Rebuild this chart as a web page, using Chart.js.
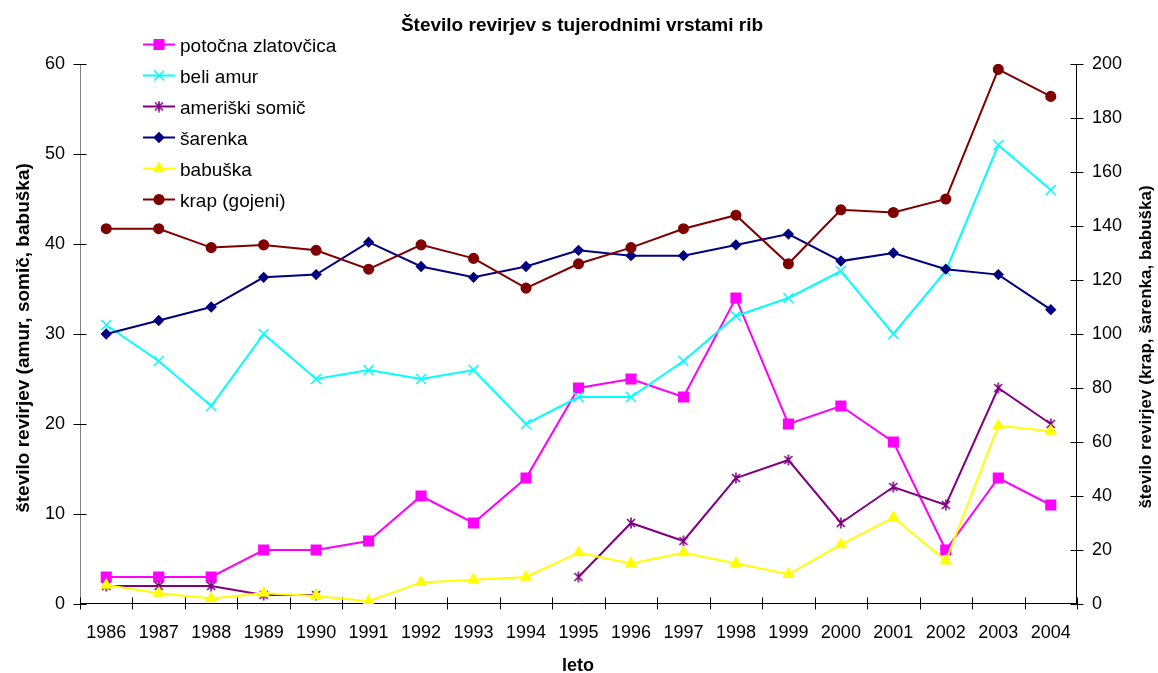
<!DOCTYPE html>
<html>
<head>
<meta charset="utf-8">
<script src="https://cdn.jsdelivr.net/npm/chart.js@4.4.0/dist/chart.umd.min.js"></script>
<style>
  html, body { margin: 0; padding: 0; background: #fff; }
  #wrap { width: 1158px; height: 673px; }
</style>
</head>
<body>
<div id="wrap"><canvas id="c" width="1158" height="673"></canvas></div>
<script>
// Leta (kategorije osi x)
const years = ['1986','1987','1988','1989','1990','1991','1992','1993','1994','1995',
               '1996','1997','1998','1999','2000','2001','2002','2003','2004'];

// Število revirjev po vrstah
const potocnaZlatovcica = [3, 3, 3, 6, 6, 7, 12, 9, 14, 24, 25, 23, 34, 20, 22, 18, 6, 14, 11];
const beliAmur          = [31, 27, 22, 30, 25, 26, 25, 26, 20, 23, 23, 27, 32, 34, 37, 30, 37, 51, 46];
const ameriskiSomic     = [2, 2, 2, 1, 1, null, null, null, null, 3, 9, 7, 14, 16, 9, 13, 11, 24, 20];
const sarenka           = [100, 105, 110, 121, 122, 134, 125, 121, 125, 131, 129, 129, 133, 137, 127, 130, 124, 122, 109];
const babuska           = [7, 4, 2, 4, 3, 1, 8, 9, 10, 19, 15, 19, 15, 11, 22, 32, 16, 66, 64];
const krapGojeni        = [139, 139, 132, 133, 131, 124, 133, 128, 117, 126, 132, 139, 144, 126, 146, 145, 150, 198, 188];

// Oznake osi
const leftTicks  = { min: 0, max: 60, step: 10 };
const rightTicks = { min: 0, max: 200, step: 20 };

const FONT = '"Liberation Sans", Arial, Helvetica, sans-serif';

// Zvezdica (X z navpično črto) kot oznaka točke
function starMarker(color) {
  const s = 12, cv = document.createElement('canvas');
  cv.width = s; cv.height = s;
  const g = cv.getContext('2d');
  g.strokeStyle = color; g.lineWidth = 1.6;
  g.beginPath();
  g.moveTo(2, 2); g.lineTo(s - 2, s - 2);
  g.moveTo(s - 2, 2); g.lineTo(2, s - 2);
  g.moveTo(s / 2, 0.5); g.lineTo(s / 2, s - 0.5);
  g.stroke();
  return cv;
}
const starImg = starMarker('#800080');

function series(label, data, color, axis, style, radius, order) {
  return {
    label, data, yAxisID: axis,
    borderColor: color, backgroundColor: color,
    borderWidth: 2, tension: 0, spanGaps: false,
    pointStyle: style, pointRadius: radius, pointHoverRadius: radius,
    pointBorderColor: color, pointBackgroundColor: color, pointBorderWidth: 1.5,
    order
  };
}

const datasets = [
  series('potočna zlatovčica', potocnaZlatovcica, '#FF00FF', 'yL', 'rect', 6.8, 5),
  series('beli amur', beliAmur, '#00FFFF', 'yL', 'crossRot', 7, 4),
  series('ameriški somič', ameriskiSomic, '#800080', 'yL', starImg, 6, 3),
  series('šarenka', sarenka, '#000080', 'yR', 'rectRot', 4.6, 2),
  series('babuška', babuska, '#FFFF00', 'yR', 'triangle', 5.8, 1),
  series('krap (gojeni)', krapGojeni, '#800000', 'yR', 'circle', 4.8, 0)
];

const axesPlugin = {
  id: 'axesFrame',
  beforeDatasetsDraw(chart) {
    const ctx = chart.ctx, a = chart.chartArea;
    const yL = chart.scales.yL, yR = chart.scales.yR;
    ctx.save();
    ctx.lineWidth = 1;
    const seg = (x1, y1, x2, y2, c) => {
      ctx.strokeStyle = c; ctx.beginPath(); ctx.moveTo(x1, y1); ctx.lineTo(x2, y2); ctx.stroke();
    };
    const L = Math.round(a.left) + 0.5, R = Math.round(a.right) - 0.5, B = Math.round(a.bottom) - 0.5;
    // leva os
    seg(L, a.top, L, a.bottom, '#808080');
    yL.ticks.forEach((t, i) => {
      const py = Math.round(yL.getPixelForTick(i)) + 0.5;
      seg(L - 7, py, L + 6, py, '#000');
    });
    // desna os
    seg(R, a.top, R, a.bottom, '#000');
    yR.ticks.forEach((t, i) => {
      const py = Math.round(yR.getPixelForTick(i)) + 0.5;
      seg(R - 6, py, R + 7, py, '#000');
    });
    // os x z oznakami med kategorijami
    seg(a.left, B, a.right, B, '#000');
    const n = years.length, w = (a.right - a.left) / n;
    for (let i = 0; i <= n; i++) {
      const px = Math.round(a.left + i * w) + 0.5;
      seg(px, B - 6, px, B + 6, '#000');
    }
    ctx.restore();
  },
  afterDraw(chart) {
    const ctx = chart.ctx;
    ctx.save();
    ctx.fillStyle = '#000';
    // naslov
    ctx.font = 'bold 19px ' + FONT;
    ctx.textAlign = 'center'; ctx.textBaseline = 'alphabetic';
    ctx.fillText('Število revirjev s tujerodnimi vrstami rib', 582, 31);
    // naslov osi x
    ctx.font = 'bold 18px ' + FONT;
    ctx.fillText('leto', 578, 671);
    // naslov leve osi
    ctx.save();
    ctx.translate(29, 338); ctx.rotate(-Math.PI / 2);
    ctx.font = 'bold 19px ' + FONT;
    ctx.fillText('število revirjev (amur, somič, babuška)', 0, 0);
    ctx.restore();
    // naslov desne osi
    ctx.save();
    ctx.translate(1151, 347); ctx.rotate(-Math.PI / 2);
    ctx.font = 'bold 17px ' + FONT;
    ctx.fillText('število revirjev (krap, šarenka, babuška)', 0, 0);
    ctx.restore();
    // legenda
    const lx1 = 143, lx2 = 175, tx = 180, y0 = 44, dy = 30.9;
    ctx.font = '19px ' + FONT;
    ctx.textAlign = 'left';
    chart.data.datasets.forEach((ds, i) => {
      const y = Math.round(y0 + i * dy) + 0.5;
      ctx.strokeStyle = ds.borderColor; ctx.lineWidth = 2;
      ctx.beginPath(); ctx.moveTo(lx1, y); ctx.lineTo(lx2, y); ctx.stroke();
      ctx.fillStyle = ds.pointBackgroundColor; ctx.strokeStyle = ds.pointBorderColor;
      ctx.lineWidth = ds.pointBorderWidth;
      Chart.helpers.drawPoint(ctx, { pointStyle: ds.pointStyle, rotation: 0, radius: ds.pointRadius, borderWidth: ds.pointBorderWidth }, (lx1 + lx2) / 2, y);
      ctx.fillStyle = '#000';
      ctx.fillText(ds.label, tx, y + 7);
    });
    ctx.restore();
  }
};

new Chart(document.getElementById('c'), {
  type: 'line',
  data: { labels: years, datasets },
  options: {
    responsive: false,
    devicePixelRatio: 1,
    animation: false,
    layout: { padding: { top: 64, bottom: 0, left: 0, right: 0 } },
    plugins: { legend: { display: false }, title: { display: false }, tooltip: { enabled: false } },
    scales: {
      x: {
        type: 'category', offset: true,
        grid: { display: true, drawOnChartArea: false, drawTicks: true, tickLength: 6, color: 'rgba(0,0,0,0)' },
        border: { display: false },
        ticks: { color: '#000', font: { family: FONT, size: 18 }, padding: 12, maxRotation: 0, autoSkip: false },
        afterFit(s) { s.height = 69; }
      },
      yL: {
        position: 'left', min: leftTicks.min, max: leftTicks.max,
        grid: { display: true, drawOnChartArea: false, drawTicks: true, tickLength: 7, color: 'rgba(0,0,0,0)' },
        border: { display: false },
        ticks: { stepSize: leftTicks.step, color: '#000', font: { family: FONT, size: 18 }, padding: 8 },
        afterFit(s) { s.width = 80; }
      },
      yR: {
        position: 'right', min: rightTicks.min, max: rightTicks.max,
        grid: { display: true, drawOnChartArea: false, drawTicks: true, tickLength: 7, color: 'rgba(0,0,0,0)' },
        border: { display: false },
        ticks: { stepSize: rightTicks.step, color: '#000', font: { family: FONT, size: 18 }, padding: 8 },
        afterFit(s) { s.width = 81; }
      }
    }
  },
  plugins: [axesPlugin]
});
</script>
</body>
</html>
